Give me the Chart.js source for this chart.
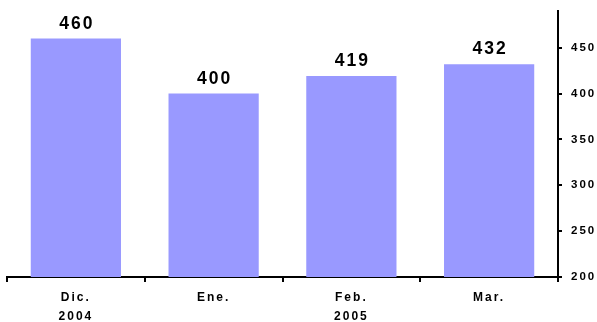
<!DOCTYPE html>
<html>
<head>
<meta charset="utf-8">
<script src="https://cdn.jsdelivr.net/npm/chart.js@4/dist/chart.umd.min.js"></script>
<style>
  html, body { margin: 0; padding: 0; background: #fff; }
  #wrap { width: 597px; height: 322px; position: relative; }
</style>
</head>
<body>
<div id="wrap"><canvas id="c" width="597" height="322"></canvas></div>
<script>
// Monthly values, Dec 2004 – Mar 2005
const months = ['Dic.', 'Ene.', 'Feb.', 'Mar.'];
const years = ['2004', '', '2005', ''];
const values = [460, 400, 419, 432];
const yMin = 200;
const yMax = 490;
const yStep = 50;

const labels = months.map((m, i) => years[i] ? [m, years[i]] : m);

const FONT = "'Liberation Sans', Arial, sans-serif";
const SPACING = '2px';

// Bold, letter-spaced value labels above each bar
const valueLabels = {
  id: 'valueLabels',
  afterDatasetsDraw(chart) {
    const ctx = chart.ctx;
    const meta = chart.getDatasetMeta(0);
    ctx.save();
    ctx.font = 'bold 17.5px ' + FONT;
    ctx.letterSpacing = SPACING;
    ctx.fillStyle = '#000';
    ctx.textAlign = 'center';
    ctx.textBaseline = 'alphabetic';
    meta.data.forEach((bar, i) => {
      ctx.fillText(String(chart.data.datasets[0].data[i]), bar.x + 1, bar.y - 10);
    });
    ctx.restore();
  }
};

// Letter spacing for axis tick text
const spacedText = {
  id: 'spacedText',
  beforeDraw(chart) { chart.ctx.letterSpacing = SPACING; }
};

new Chart(document.getElementById('c'), {
  type: 'bar',
  data: {
    labels: labels,
    datasets: [{
      data: values,
      backgroundColor: '#9999FF',
      borderWidth: 0,
      barPercentage: 0.655,
      categoryPercentage: 1
    }]
  },
  options: {
    responsive: false,
    animation: false,
    devicePixelRatio: 1,
    layout: { padding: { left: 7, top: 11, right: 0, bottom: 0 } },
    plugins: { legend: { display: false }, tooltip: { enabled: false } },
    scales: {
      x: {
        grid: {
          drawOnChartArea: false,
          drawTicks: true,
          tickLength: 5,
          color: '#000',
          lineWidth: 2
        },
        border: { display: true, color: '#000', width: 2 },
        ticks: {
          color: '#000',
          font: { family: FONT, size: 12, weight: 'bold', lineHeight: '19px' },
          padding: 6.5,
          maxRotation: 0,
          autoSkip: false
        },
        afterFit(scale) {
          scale.height = 45;
          scale.paddingLeft = 0;
          scale.paddingRight = 0;
        }
      },
      y: {
        position: 'right',
        min: yMin,
        max: yMax,
        grid: {
          drawOnChartArea: false,
          drawTicks: true,
          tickLength: 4,
          color: '#000',
          lineWidth: 2
        },
        border: { display: true, color: '#000', width: 2 },
        ticks: {
          stepSize: yStep,
          color: '#000',
          font: { family: FONT, size: 11.5, weight: 'bold' },
          padding: 9
        },
        afterBuildTicks(scale) {
          scale.ticks = scale.ticks.filter(t => t.value % yStep === 0);
        },
        afterFit(scale) {
          scale.width = 39;
          scale.paddingTop = 0;
          scale.paddingBottom = 0;
        }
      }
    }
  },
  plugins: [spacedText, valueLabels]
});
</script>
</body>
</html>
